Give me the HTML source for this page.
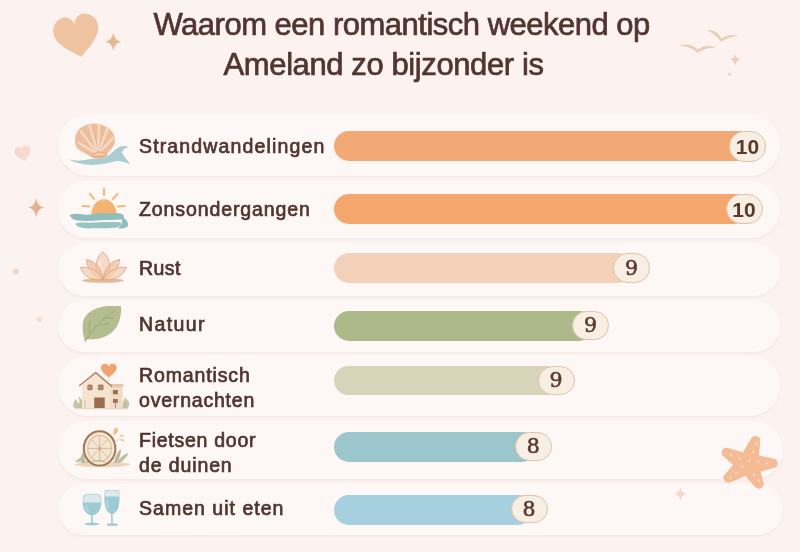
<!DOCTYPE html>
<html lang="nl">
<head>
<meta charset="utf-8">
<title>Waarom een romantisch weekend op Ameland zo bijzonder is</title>
<style>
html,body{margin:0;padding:0;}
body{width:800px;height:552px;overflow:hidden;position:relative;background:#fbf2ef;font-family:"Liberation Sans",Arial,sans-serif;color:#4a302b;}
.bg{position:absolute;left:0;top:0;width:800px;height:552px;background:#fcf3f1;}
.t{position:absolute;white-space:nowrap;font-size:31px;line-height:31px;color:#51352e;letter-spacing:0px;-webkit-text-stroke:0.7px #51352e;}
.card{position:absolute;left:58px;width:722px;border-radius:31px;background:#fdf7f6;box-shadow:0 1.5px 3px rgba(225,200,195,0.28);}
.lb{position:absolute;left:139px;white-space:nowrap;font-size:19.5px;line-height:20px;font-weight:400;color:#513530;-webkit-text-stroke:0.7px #513530;}
.bar{position:absolute;left:334px;height:30px;border-radius:15px;}
.bd{position:absolute;width:35px;height:29px;border-radius:15px;background:#f7eee4;border:1px solid #dfc3a6;text-align:center;font-family:"DejaVu Serif",serif;font-size:20.5px;line-height:29px;font-weight:400;color:#5a392b;-webkit-text-stroke:0.6px #5a392b;}
svg{position:absolute;left:0;top:0;}
</style>
</head>
<body>
<div class="bg"></div>

<div class="card" style="top:114px;height:62px"></div>
<div class="card" style="top:181px;height:57px"></div>
<div class="card" style="top:243px;height:53px"></div>
<div class="card" style="top:300px;height:52px"></div>
<div class="card" style="top:355px;height:61px"></div>
<div class="card" style="top:421px;height:58px;width:725px"></div>
<div class="card" style="top:484px;height:51px;width:725px"></div>

<div class="t" style="left:153.5px;top:9px;letter-spacing:-0.5px">Waarom een romantisch weekend op</div>
<div class="t" style="left:223.6px;top:49.3px;letter-spacing:-0.4px">Ameland zo bijzonder is</div>

<div class="lb" style="top:136px;letter-spacing:1.15px">Strandwandelingen</div>
<div class="lb" style="top:198.7px;letter-spacing:0.9px">Zonsondergangen</div>
<div class="lb" style="top:257.5px;letter-spacing:0.46px">Rust</div>
<div class="lb" style="top:314px;letter-spacing:1.4px">Natuur</div>
<div class="lb" style="top:364.8px;letter-spacing:0.87px">Romantisch</div>
<div class="lb" style="top:389.6px;letter-spacing:0.8px">overnachten</div>
<div class="lb" style="top:429.5px;letter-spacing:0.74px">Fietsen door</div>
<div class="lb" style="top:454.5px;letter-spacing:0.88px">de duinen</div>
<div class="lb" style="top:497.7px;letter-spacing:1.02px">Samen uit eten</div>

<div class="bar" style="top:131px;width:420px;background:#f3a976"></div>
<div class="bar" style="top:193.5px;width:415px;background:#f5a66d"></div>
<div class="bar" style="top:253px;width:300px;background:#f3d1b9"></div>
<div class="bar" style="top:310.5px;width:260px;background:#aeb98b"></div>
<div class="bar" style="top:366px;height:29px;width:226px;background:#d7d4b9"></div>
<div class="bar" style="top:431.5px;width:203px;background:#9bc6cc"></div>
<div class="bar" style="top:494.5px;width:199px;background:#a7d0df"></div>

<div class="bd" style="left:729px;top:131px;height:28.6px;line-height:30.6px;font-family:'Liberation Sans',sans-serif;font-weight:700;font-size:21px;-webkit-text-stroke:0">10</div>
<div class="bd" style="left:725.5px;top:193.5px;height:28.2px;line-height:30.2px;font-family:'Liberation Sans',sans-serif;font-weight:700;font-size:21px;-webkit-text-stroke:0">10</div>
<div class="bd" style="left:613px;top:253px;height:28px;line-height:28px">9</div>
<div class="bd" style="left:572px;top:310.5px;height:27.5px;line-height:27.5px">9</div>
<div class="bd" style="left:537.5px;top:365.6px;height:27.4px;line-height:27.4px">9</div>
<div class="bd" style="left:514.7px;top:431.6px;height:27.3px;line-height:27.3px">8</div>
<div class="bd" style="left:510.6px;top:494.6px;height:26.6px;line-height:26.6px">8</div>

<svg width="800" height="552" viewBox="0 0 800 552">
<!-- decorations -->
<path d="M0,21 C-10,13 -23,4 -23,-8 C-23,-17 -16,-22 -10,-22 C-5,-22 -1,-18 0,-13 C1,-18 5,-22 10,-22 C16,-22 23,-17 23,-8 C23,4 10,13 0,21Z" fill="#efc2a0" transform="translate(77.3,36.7) rotate(-12) scale(0.985,0.975)"/>
<path d="M0,-9 Q1.2,-1.2 8,0 Q1.2,1.2 0,9 Q-1.2,1.2 -8,0 Q-1.2,-1.2 0,-9Z" fill="#e4b894" transform="translate(113.3,41.8)"/>
<path d="M678.8,45.8 Q690,42 697.8,49.6 Q706,42.8 716.4,48.2 Q706,46.8 697.6,52.8 Q690,45.8 678.8,45.8Z" fill="#e9cfba"/>
<path d="M707,30.4 Q716.5,29.2 721.6,38.6 Q729,33 738,36.2 Q729,36.2 721.2,41.8 Q715,33.4 707,30.4Z" fill="#e9cfba"/>
<path d="M0,-6 Q0.8,-0.8 5,0 Q0.8,0.8 0,6 Q-0.8,0.8 -5,0 Q-0.8,-0.8 0,-6Z" fill="#efcdb6" transform="translate(735.2,59.4)"/>
<circle cx="729.7" cy="74.3" r="1.7" fill="#f0d6c4"/>
<path d="M0,7 C-3,4.5 -8,1 -8,-3 C-8,-6 -6,-8 -4,-8 C-2,-8 -0.5,-7 0,-5 C0.5,-7 2,-8 4,-8 C6,-8 8,-6 8,-3 C8,1 3,4.5 0,7Z" fill="#f6d9cf" transform="translate(23.2,154) rotate(-14)"/>
<path d="M0,-9.6 Q1.2,-1.2 8.2,0 Q1.2,1.2 0,9.6 Q-1.2,1.2 -8.2,0 Q-1.2,-1.2 0,-9.6Z" fill="#e4b392" transform="translate(36.2,207.5)"/>
<circle cx="15.8" cy="271.5" r="3" fill="#f6d6c3"/>
<circle cx="39.6" cy="319.3" r="2.8" fill="#f6ded2"/>
<path d="M0,-7 Q1,-1 6,0 Q1,1 0,7 Q-1,1 -6,0 Q-1,-1 0,-7Z" fill="#f4d8ca" transform="translate(680.4,493.9)"/>
<!-- starfish -->
<g fill="#f4bb95"><path d="M757.2,466.9 Q759.6,454.7 760.1,441.9 A4.9,4.9 0 0 0 750.8,439.0 Q743.8,449.8 738.8,461.1 Z"/><path d="M748.3,473.6 Q760.7,471.9 773.0,468.2 A4.9,4.9 0 0 0 772.8,458.4 Q760.2,455.4 747.7,454.4 Z"/><path d="M739.6,468.6 Q746.2,478.0 754.7,486.4 A4.9,4.9 0 0 0 763.3,481.8 Q760.7,470.1 756.4,459.4 Z"/><path d="M742.5,456.1 Q733.3,464.2 725.2,474.0 A4.9,4.9 0 0 0 730.8,482.0 Q742.7,477.8 753.5,471.9 Z"/><path d="M752.5,455.5 Q741.0,451.0 728.6,448.2 A4.9,4.9 0 0 0 724.1,456.9 Q733.3,465.6 743.5,472.5 Z"/><circle cx="748.0" cy="464.0" r="10"/></g>
<g stroke="#fbe7d8" stroke-width="0.7" stroke-linecap="round"><path d="M755.4,443.5 H757.6 M756.5,442.4 V444.6"/><path d="M752.4,452.0 H754.6 M753.5,450.9 V453.1"/><path d="M748.4,461.0 H750.6 M749.5,459.9 V462.1"/><path d="M756.9,461.5 H759.1 M758.0,460.4 V462.6"/><path d="M765.9,463.5 H768.1 M767.0,462.4 V464.6"/><path d="M740.9,466.5 H743.1 M742.0,465.4 V467.6"/><path d="M734.9,473.0 H737.1 M736.0,471.9 V474.1"/><path d="M729.4,478.0 H731.6 M730.5,476.9 V479.1"/><path d="M752.9,474.5 H755.1 M754.0,473.4 V475.6"/><path d="M757.4,480.5 H759.6 M758.5,479.4 V481.6"/><path d="M729.9,455.0 H732.1 M731.0,453.9 V456.1"/><path d="M738.4,458.5 H740.6 M739.5,457.4 V459.6"/></g>
<!-- icons -->
<!-- shell -->
<g>
<path d="M69,159.6 C75,161 82,161 88,159.6 C93,158.5 97,159.3 102,158.3 C108,156.8 113,151.5 117,148.3 C120.5,146 125,145.5 128.4,146.9 C124.8,147.8 122.2,149.8 122,152.6 C123.6,156.6 127.4,160 130.3,164.3 C126,162.7 121.5,161.2 117.2,160.8 C110,162.4 101,165.2 91.5,165 C83,164.8 75,162.8 69,159.6Z" fill="#a9cdd1"/>
<path d="M92,157.5 L77.5,148.8 C74.5,144.5 74,137.5 77,132 C80.5,126.5 87,123.5 94,123.5 C101,123.5 108,126.5 112,131.5 C115.5,136 115.8,142.5 112.8,147.2 L106.5,154.6 Z" fill="#eebf9f"/>
<g stroke="#f8dbc6" stroke-width="2.2" stroke-linecap="round" fill="none">
<path d="M98,154 L79,143"/><path d="M98,154 L81,131.5"/><path d="M98,154 L89.5,125.5"/><path d="M98,154 L99,125"/><path d="M98,154 L107.5,128.5"/><path d="M98,154 L113,138"/>
</g>
<g stroke="#e2a987" stroke-width="0.6" fill="none" opacity="0.55">
<path d="M98,154 L77,137.5"/><path d="M98,154 L84.5,127.5"/><path d="M98,154 L94,124"/><path d="M98,154 L103.5,126"/><path d="M98,154 L111,132.5"/><path d="M98,154 L113.5,144"/>
</g>
<path d="M91.5,156.5 C92,153 96,151.5 100,151.5 C104,151.5 107,152.5 107.5,154.5 C106,157.5 102,158.5 98,158.5 C95,158.5 92.5,158 91.5,156.5Z" fill="#e6b08a"/>
<path d="M93.5,155.5 C95,153.5 98,153 101,153 C103.5,153 105,153.5 105.5,154.3 C103,155.5 99,156 93.5,155.5Z" fill="#f3d0b3"/>
</g>
<!-- sun -->
<g>
<g stroke="#f5b878" stroke-width="2" stroke-linecap="round">
<path d="M104,188.8 L104,195"/><path d="M89.8,193.8 L94.2,199"/><path d="M117.4,193.8 L113,199"/><path d="M82.5,206 L89.3,206.4"/><path d="M117.8,206.4 L124.8,206"/>
</g>
<path d="M91.4,214.5 C91.4,206 97,199.2 104,199.2 C111,199.2 116.5,206 116.5,214.5 Z" fill="#f4b36f"/>
<path d="M100,201 C102,200.3 104,200.3 106,201 C104,202.3 101.5,202.5 100,201Z" fill="#f8c890"/>
<path d="M69.5,215 C74,213.3 79,213.8 84,214.6 C89,215.3 93,214 98,213.3 C104,212.6 110,213.8 115,213.2 C119,212.8 122,213.6 123.8,215.6 C124.5,217.6 123,219.2 120.5,219.6 C115,220.3 108,219.6 101,220.3 C93,221 85,221.3 78,220.6 C74,220.2 71,218.5 69.5,215Z" fill="#8fbdbd"/>
<path d="M75.8,223.3 C80,222 86,222.8 92,222.6 C99,222.3 105,221.6 111,222 C115,222.3 118,221.8 120.5,222.3 C121.5,224.5 120.3,226.8 117,227.6 C110,228.7 101,227.8 93,228.3 C86,228.8 80,227.8 77,226 C76,225.2 75.8,224.3 75.8,223.3Z" fill="#97c3c1"/>
<path d="M121.5,216.8 C126,218.8 128.8,222.3 128,226 C125.5,228.4 121.3,228.9 118,228.5 C121.2,225.8 123,221.8 121.5,216.8Z" fill="#8fbdbd"/>
</g>
<!-- lotus -->
<g stroke="#d89f7c" stroke-width="0.75">
<ellipse cx="103" cy="280.6" rx="21" ry="2.2" fill="#e2bc9a" stroke="none"/>
<path d="M102.8,251.7 C97,257 95,265 96.5,271 C98,276 101,279 103,280 C105,279 108,276 109.5,271 C111,265 109,257 102.8,251.7Z" fill="#f6dcc8"/>
<path d="M99.5,260 C99,263 99.3,266 100.2,268.5 C101,266 101.8,263 99.5,260Z" fill="#fbeee3" stroke="none"/>
<g fill="#eebd98" fill-opacity="0.72">
<path d="M86.5,259.5 C96,261 102,270 103,280 C94,277 87,270 86.5,259.5Z"/>
<path d="M119.5,259.5 C110,261 104,270 103,280 C112,277 119,270 119.5,259.5Z"/>
</g>
<path d="M117.3,261.8 C118,261.5 118.5,262 118.3,262.8 C117.8,263.8 117,264.2 116.5,264Z" fill="#fbeadc" stroke="none"/>
<g fill="#f3cfb3" fill-opacity="0.75">
<path d="M80.5,267.5 C88,266 98,270 103,279.5 C94,281 84,278 80.5,267.5Z"/>
<path d="M126.5,267.5 C119,266 109,270 103,279.5 C112,281 122,278 126.5,267.5Z"/>
</g>
</g>
<!-- leaf -->
<g>
<path d="M85,341.5 C83.5,336 82,329 83,322 C85,313 94,308 104,306.5 C110,305.8 116,306 121,306.2 C121.5,312 120.5,320 116.5,327 C111.5,335 102,339 92,339.3 C89,339.4 87,339 86,340 Z" fill="#b4bd8d"/>
<g stroke="#9ea674" stroke-width="0.9" fill="none" stroke-linecap="round">
<path d="M85.3,341.5 C92,330 102,319 114.5,311"/>
<path d="M89.5,333 C89,328 89,324 90,321"/>
<path d="M95,326 C100,325.5 105,324.5 109,323.5"/>
<path d="M103,318 C106,318 110,318 113.5,318.5"/>
</g>
</g>
<!-- house -->
<g>
<path d="M75,409 C72,406 73,402 76,399 C78,403 80,405 83,408Z" fill="#c9c6a8"/>
<path d="M77,409 C80,404 80,399 78,396 C82,399 84,404 84,409Z" fill="#c2c0a0"/>
<path d="M127,409 C130,406 130,402 127,399 C125,403 123,405 121,408Z" fill="#c9c6a8"/>
<path d="M124,409 C122,405 123,400 126,397 C126,401 126,405 127,409Z" fill="#c2c0a0"/>
<rect x="110" y="385.5" width="12.5" height="23" fill="#f0dcc6"/>
<rect x="109.5" y="384" width="14" height="3" rx="0.8" fill="#e4c7ab"/>
<path d="M82,385.5 L95.7,373.8 L110.4,386 L110.4,408.5 L82,408.5Z" fill="#f4e4d0"/>
<path d="M79.7,385.5 L95.7,372.6 L111.5,386.2" stroke="#b98465" stroke-width="1.6" fill="none" stroke-linecap="round" stroke-linejoin="round"/>
<rect x="87.3" y="384.5" width="5.4" height="5.8" rx="1.5" fill="#a88068"/>
<rect x="97.8" y="384.5" width="5.8" height="5.8" rx="1.5" fill="#a88068"/>
<path d="M87.5,387.4 H92.5 M98,387.4 H103.4" stroke="#c9a48a" stroke-width="0.6"/>
<rect x="94.2" y="397.5" width="10.5" height="11" fill="#9b6c4d"/>
<rect x="113" y="390" width="4.8" height="4.3" fill="#9c6e50"/>
<rect x="113" y="399" width="4.8" height="3.8" fill="#9c6e50"/>
<rect x="84.5" y="400" width="0.9" height="8.5" fill="#c9b7a3"/>
<rect x="115" y="403" width="0.9" height="5.5" fill="#a8856e"/>
<path d="M75,408.6 H128" stroke="#e6d5c3" stroke-width="1.2"/>
<path d="M108.8,377.5 C106,375 101,372 101,367.5 C101,365 103,363.8 105,363.8 C106.8,363.8 108.2,365 108.8,366.5 C109.4,365 110.8,363.8 112.6,363.8 C114.6,363.8 116.7,365 116.7,367.5 C116.7,372 111.6,375 108.8,377.5Z" fill="#f0a271"/>
<path d="M108.8,377.5 V381" stroke="#f0b08a" stroke-width="0.7"/>
</g>
<!-- wheel -->
<g>
<ellipse cx="102.5" cy="464.5" rx="27.8" ry="2.8" fill="#eed3bd"/>
<path d="M75,462 C78,458 82,456 86,456 C83,458 81,460 80,462Z" fill="#c3c3a3"/>
<path d="M81,463 C80,459 81,455 83,452 C84,456 85,459 86,463Z" fill="#bcbd9c"/>
<path d="M86,463 C87,459 89,457 91,456 C90,459 89,461 89,463Z" fill="#c3c3a3"/>
<path d="M114,463 C115,457 117,452 121,449 C121,454 119,459 117,463Z" fill="#b9bb98"/>
<path d="M117,463 C119,458 124,454 128.5,453 C127,457 123,461 120,463Z" fill="#bfc0a0"/>
<ellipse cx="99.6" cy="448.4" rx="15.8" ry="17.2" fill="#f4e6d3" stroke="#a37658" stroke-width="2"/>
<ellipse cx="99.6" cy="448.4" rx="11.8" ry="13" fill="none" stroke="#dcc3a3" stroke-width="1.2"/>
<g stroke="#d2b591" stroke-width="0.9">
<path d="M99.6,435.4 V461.4"/><path d="M87.8,448.4 H111.4"/><path d="M91.3,439.2 L107.9,457.6"/><path d="M107.9,439.2 L91.3,457.6"/>
</g>
<circle cx="99.6" cy="448.4" r="1.5" fill="#c9a984"/>
<path d="M92,462 C95,460 101,460 105,462" stroke="#b7c49b" stroke-width="1.3" fill="none"/>
<path d="M116.8,427.8 C118.6,428.6 118.4,431.5 117,433 C116,434.2 114.5,435 113.6,435.2 C113.2,433 113.6,430.5 114.6,428.8 C115.2,427.9 116,427.5 116.8,427.8Z" fill="#f2bd82"/>
<path d="M119.3,436.6 C120.3,435.2 122.3,434.6 124,434.9 C123.3,436.4 121.4,437.2 119.3,436.6Z" fill="#f2bd82"/>
<path d="M120,439.6 C121.5,438.8 123.5,439.3 124.6,440.6 C123,441.6 121.2,441.2 120,439.6Z" fill="#f2bd82"/>
<path d="M114.8,444 C116,441 117.5,438.5 119.8,436.8 M117,440.5 C118,440 119,439.7 120.2,439.7" stroke="#efc79a" stroke-width="0.6" fill="none"/>
</g>
<!-- glasses -->
<g>
<path d="M84.5,495 C87,494 97,494 99.8,495 C101.5,500 101.5,506 99,510.5 C97.5,513.5 94.5,515 92,515 C89.5,515 86.5,513.5 85,510.5 C82.5,506 82.5,500 84.5,495Z" fill="#dde9ea" stroke="#a9d0d3" stroke-width="0.8"/>
<path d="M83.2,502.5 H100.8 C101,506 100.5,508.5 99,510.5 C97.5,513.5 94.5,515 92,515 C89.5,515 86.5,513.5 85,510.5 C83.5,508.5 83,506 83.2,502.5Z" fill="#9ccbd1"/>
<rect x="91" y="514.5" width="1.6" height="9" fill="#9ccbd1"/>
<ellipse cx="91.9" cy="524" rx="7.2" ry="1.5" fill="#9ccbd1"/>
<path d="M105.2,490.5 H118.7 C119.3,497 119.5,504 117.5,509 C116,512 114,513.5 111.9,513.5 C109.8,513.5 107.8,512 106.3,509 C104.3,504 104.6,497 105.2,490.5Z" fill="#dde9ea" stroke="#a9d0d3" stroke-width="0.8"/>
<path d="M104.9,496.5 H119 C119.3,501 119,505.5 117.5,509 C116,512 114,513.5 111.9,513.5 C109.8,513.5 107.8,512 106.3,509 C104.8,505.5 104.6,501 104.9,496.5Z" fill="#9ccbd1"/>
<rect x="111.1" y="513" width="1.6" height="11" fill="#9ccbd1"/>
<rect x="106.8" y="523.6" width="10.9" height="2.2" rx="1" fill="#9ccbd1"/>
<path d="M86,505 C86,508 87,510.5 88.5,512" stroke="#d5eaec" stroke-width="0.8" fill="none"/>
<path d="M107.5,500 C107,503 107.3,506 108.3,508.5" stroke="#d5eaec" stroke-width="0.8" fill="none"/>
</g>
</svg>
</body>
</html>
